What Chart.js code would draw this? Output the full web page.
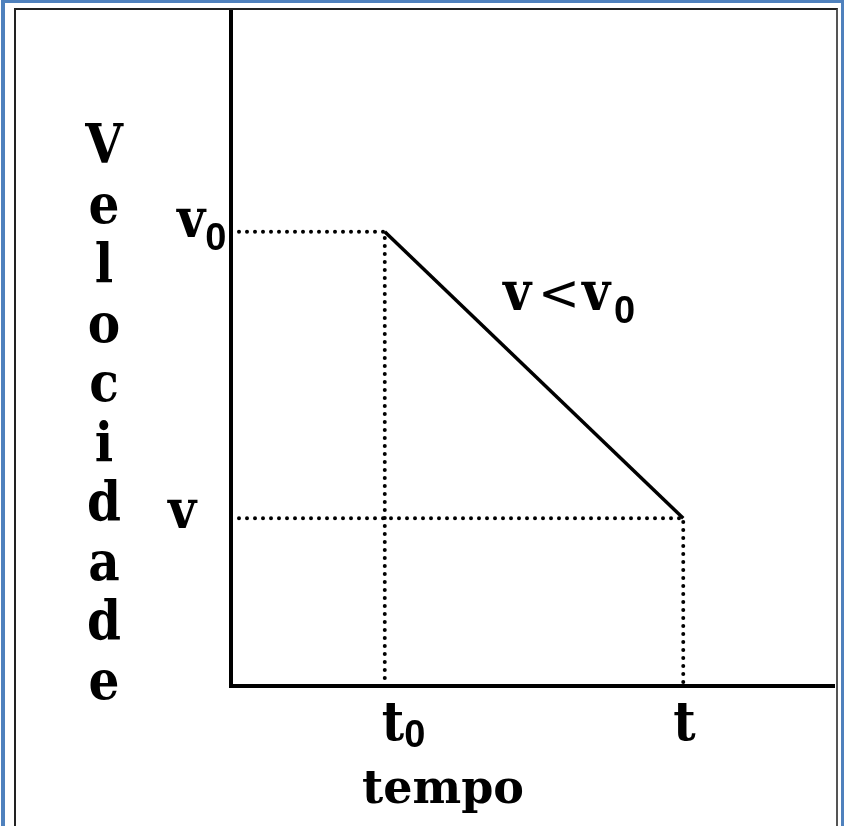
<!DOCTYPE html>
<html>
<head>
<meta charset="utf-8">
<script src="https://cdn.jsdelivr.net/npm/chart.js@4/dist/chart.umd.min.js"></script>
<style>
  html, body { margin: 0; padding: 0; background: #fff; overflow: hidden; }
  #frame { position: absolute; left: 1px; top: -1px; width: 836px; height: 900px; border: 4px solid #4f81bd; }
  #inner { position: absolute; left: 14px; top: 8px; width: 820px; height: 900px; border: 2px solid #222; border-right-color: #555; }
  #chart { position: absolute; left: 0; top: 0; }
</style>
</head>
<body>
<div id="frame"></div>
<div id="inner"></div>
<canvas id="chart" width="844" height="826"></canvas>
<script>
// instants (t0, t) and velocities (v0, v)
const tempoNames = ['t', 't'];
const tempoSubs = ['0', ''];
const tempo = [2.55, 7.5];
const velNames = ['v', 'v'];
const velSubs = ['0', ''];
const velocidade = [6.74, 2.49];
const yTitle = 'Velocidade';
const xTitle = 'tempo';

const mainFont = 'bold 54px "DejaVu Serif Condensed", "DejaVu Serif"';
const subFont = 'bold 38px "Liberation Sans"';

function drawSub(ctx, base, sub, x, y, drop) {
  ctx.font = mainFont;
  ctx.fillText(base, x, y);
  const w = ctx.measureText(base).width;
  if (sub) {
    ctx.font = subFont;
    ctx.fillText(sub, x + w, y + drop);
  }
}

const textPlugin = {
  id: 'textPlugin',
  afterDraw(chart) {
    const ctx = chart.ctx;
    const xs = chart.scales.x, ys = chart.scales.y;
    const left = chart.chartArea.left;
    ctx.save();
    ctx.fillStyle = '#000';
    ctx.textBaseline = 'alphabetic';
    ctx.textAlign = 'left';

    // y labels
    drawSub(ctx, velNames[0], velSubs[0], left - 54, ys.getPixelForValue(velocidade[0]) + 5, 13);
    drawSub(ctx, velNames[1], velSubs[1], left - 63, ys.getPixelForValue(velocidade[1]) + 10, 13);

    // x labels
    drawSub(ctx, tempoNames[0], tempoSubs[0], xs.getPixelForValue(tempo[0]) - 3, 740, 7);
    drawSub(ctx, tempoNames[1], tempoSubs[1], xs.getPixelForValue(tempo[1]) - 10, 740, 7);

    // relation v < v0
    ctx.font = mainFont;
    ctx.fillText('v', 503, 310);
    ctx.fillText('v', 582, 310);
    ctx.font = '50px "DejaVu Sans"';
    ctx.fillText('<', 538, 310);
    ctx.font = subFont;
    ctx.fillText('0', 614, 323);

    // axis titles
    ctx.font = 'bold 46px "DejaVu Serif"';
    ctx.fillText(xTitle, 362, 803);

    ctx.font = mainFont;
    ctx.textAlign = 'center';
    yTitle.split('').forEach((ch, i) => {
      ctx.fillText(ch, 104, 163 + i * 59.5);
    });
    ctx.restore();
  }
};

const dotted = (pts) => ({
  data: pts,
  showLine: true,
  borderColor: '#000',
  borderWidth: 4,
  borderDash: [0, 8],
  borderCapStyle: 'round',
  pointRadius: 0
});

new Chart(document.getElementById('chart'), {
  type: 'scatter',
  data: {
    datasets: [
      {
        data: tempo.map((t, i) => ({ x: t, y: velocidade[i] })),
        showLine: true,
        borderColor: '#000',
        borderWidth: 3.5,
        pointRadius: 0
      },
      dotted([{ x: 0, y: velocidade[0] }, { x: tempo[0], y: velocidade[0] }, { x: tempo[0], y: 0 }]),
      dotted([{ x: 0, y: velocidade[1] }, { x: tempo[1], y: velocidade[1] }, { x: tempo[1], y: 0 }])
    ]
  },
  options: {
    responsive: false,
    animation: false,
    layout: { padding: { left: 231, right: 10, top: 12, bottom: 140 } },
    plugins: { legend: { display: false }, tooltip: { enabled: false } },
    scales: {
      x: {
        type: 'linear', min: 0, max: 10,
        grid: { display: false, drawTicks: false },
        ticks: { display: false },
        border: { display: true, color: '#000', width: 4 }
      },
      y: {
        type: 'linear', min: 0, max: 10,
        grid: { display: false, drawTicks: false },
        ticks: { display: false },
        border: { display: true, color: '#000', width: 4 }
      }
    }
  },
  plugins: [textPlugin]
});
</script>
</body>
</html>
